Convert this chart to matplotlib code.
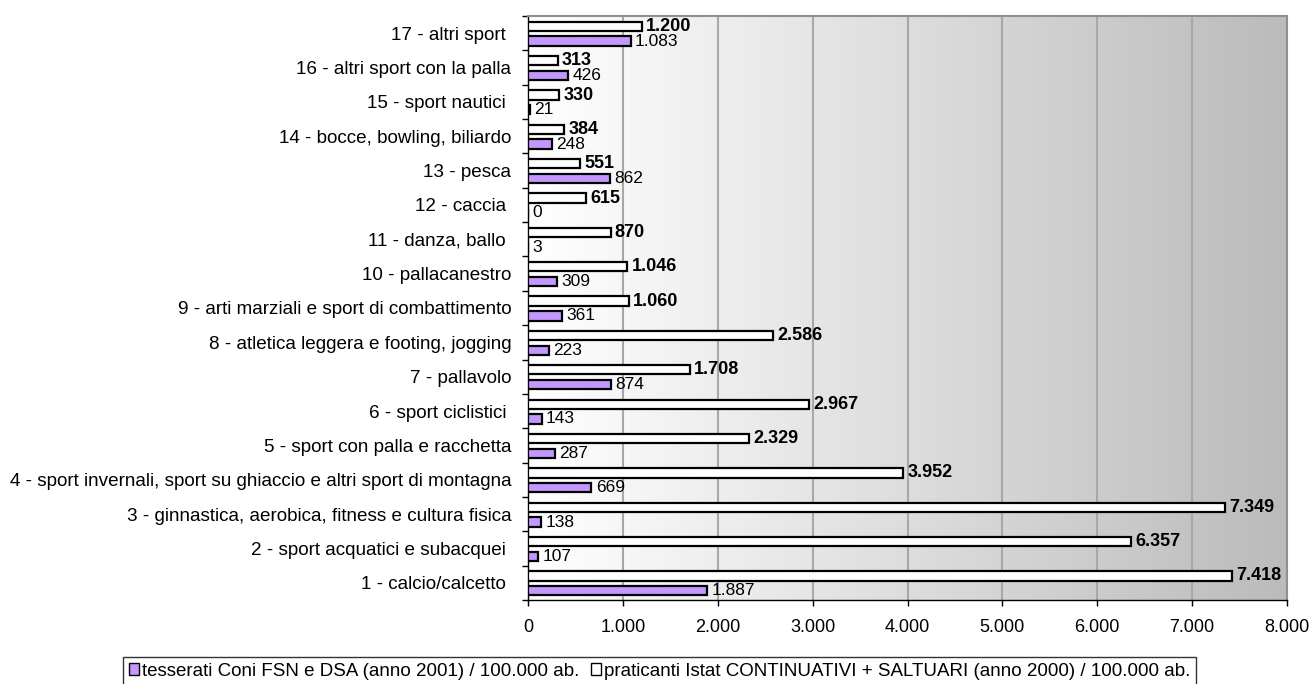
import numpy as np
import matplotlib.pyplot as plt
from matplotlib.colors import LinearSegmentedColormap
from matplotlib.patches import Patch

plt.rcParams['font.family'] = ['Liberation Sans', 'DejaVu Sans']

categorie = [
    "1 - calcio/calcetto ",
    "2 - sport acquatici e subacquei ",
    "3 - ginnastica, aerobica, fitness e cultura fisica",
    "4 - sport invernali, sport su ghiaccio e altri sport di montagna",
    "5 - sport con palla e racchetta",
    "6 - sport ciclistici ",
    "7 - pallavolo",
    "8 - atletica leggera e footing, jogging",
    "9 - arti marziali e sport di combattimento",
    "10 - pallacanestro",
    "11 - danza, ballo ",
    "12 - caccia ",
    "13 - pesca",
    "14 - bocce, bowling, biliardo",
    "15 - sport nautici ",
    "16 - altri sport con la palla",
    "17 - altri sport ",
]
tesserati = [1887, 107, 138, 669, 287, 143, 874, 223, 361, 309, 3, 0, 862, 248, 21, 426, 1083]
praticanti = [7418, 6357, 7349, 3952, 2329, 2967, 1708, 2586, 1060, 1046, 870, 615, 551, 384, 330, 313, 1200]
xticks = [0, 1000, 2000, 3000, 4000, 5000, 6000, 7000, 8000]

lab_tess = "tesserati Coni FSN e DSA (anno 2001) / 100.000 ab."
lab_prat = "praticanti Istat CONTINUATIVI + SALTUARI (anno 2000) / 100.000 ab."
viola = '#C497FF'


def fmt(v):
    return f"{v:,}".replace(",", ".")


fig = plt.figure(figsize=(13.12, 6.84), dpi=100)
ax = fig.add_axes([528 / 1312, 1 - 600 / 684, 759 / 1312, 584 / 684])

n = len(categorie)
y = np.arange(n)
h = 0.27

# sfondo sfumato bianco -> grigio
grad = np.linspace(0, 1, 256).reshape(1, -1)
cmap = LinearSegmentedColormap.from_list('g', ['#FFFFFF', '#BBBBBB'])
ax.imshow(grad, cmap=cmap, extent=[0, 8000, -0.5, n - 0.5], aspect='auto', zorder=0)

yp = y + 0.2
yt = y - 0.23
ax.barh(yp, praticanti, height=h, color='white', edgecolor='black', linewidth=1.6, zorder=3)
ax.barh(yt, tesserati, height=h, color=viola, edgecolor='black', linewidth=1.6, zorder=3)

for i in range(n):
    ax.text(praticanti[i] + 45, yp[i], fmt(praticanti[i]), fontsize=13,
            fontweight='bold', va='center', ha='left', zorder=4)
    ax.text(tesserati[i] + 45, yt[i], fmt(tesserati[i]), fontsize=12.5,
            va='center', ha='left', zorder=4)

ax.set_xlim(0, 8000)
ax.set_ylim(-0.5, n - 0.5)
ax.set_xticks(xticks)
ax.set_xticklabels([fmt(v) for v in xticks], fontsize=13)
ax.set_yticks(y)
ax.set_yticklabels(categorie, fontsize=13.6)
ax.tick_params(axis='y', length=0, pad=12)
ax.set_yticks(np.arange(-0.5, n), minor=True)
ax.tick_params(axis='y', which='minor', length=4.5, direction='out', width=1)
ax.tick_params(axis='x', length=4.5, direction='out', pad=9, width=1)
ax.grid(axis='x', color='#A8A8A8', linewidth=1.5, zorder=1)
ax.set_axisbelow(True)
for s in ax.spines.values():
    s.set_color('#909090')
    s.set_linewidth(1.5)
ax.spines['left'].set_color('black')
ax.spines['bottom'].set_color('black')
ax.spines['left'].set_linewidth(1)
ax.spines['bottom'].set_linewidth(1)

handles = [Patch(facecolor=viola, edgecolor='black', label=lab_tess),
           Patch(facecolor='white', edgecolor='black', label=lab_prat)]
leg = fig.legend(handles=handles, loc='upper center', bbox_to_anchor=(659.5 / 1312, 1 - 657 / 684), ncol=2,
                 fontsize=13.5, frameon=True, fancybox=False, edgecolor='black',
                 handlelength=0.55, handleheight=0.55, handletextpad=0.15, columnspacing=0.6,
                 borderpad=0.3, borderaxespad=0)
leg.get_frame().set_linewidth(1)

fig.savefig('out.png', dpi=100)
